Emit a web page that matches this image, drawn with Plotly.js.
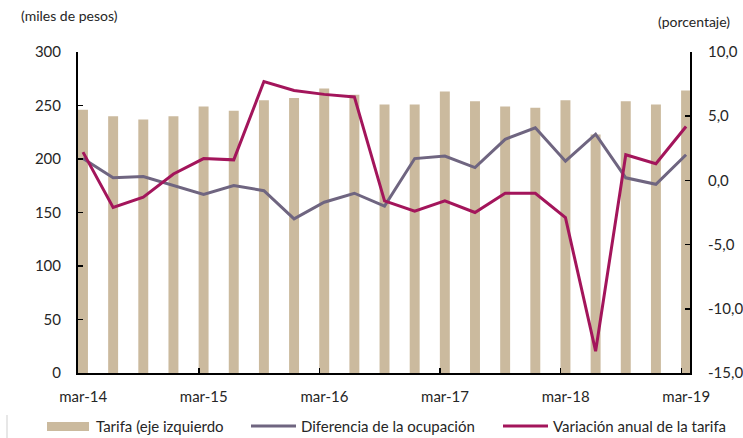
<!DOCTYPE html>
<html>
<head>
<meta charset="utf-8">
<script src="https://cdn.plot.ly/plotly-3.0.1.min.js"></script>
<style>html,body{margin:0;padding:0;background:#fff}#chart{width:743px;height:438px}</style>
</head>
<body>
<div id="chart"></div>
<script>
// Quarterly periods mar-14 .. mar-19
const periods = ["mar-14","jun-14","sep-14","dic-14","mar-15","jun-15","sep-15","dic-15",
  "mar-16","jun-16","sep-16","dic-16","mar-17","jun-17","sep-17","dic-17",
  "mar-18","jun-18","sep-18","dic-18","mar-19"];
// Tarifa (miles de pesos, left axis)
const tarifa = [246,240,237,240,249,245,255,257,266,260,251,251,263,254,249,248,255,223,254,251,264];
// Diferencia de la ocupación (%, right axis)
const ocupacion = [1.7,0.2,0.3,-0.4,-1.1,-0.4,-0.8,-3.0,-1.7,-1.0,-2.0,1.7,1.9,1.0,3.2,4.1,1.5,3.6,0.2,-0.3,2.0];
// Variación anual de la tarifa (%, right axis)
const variacion = [2.2,-2.1,-1.3,0.5,1.7,1.6,7.7,7.0,6.7,6.5,-1.6,-2.4,-1.6,-2.5,-1.0,-1.0,-2.9,-13.3,2.0,1.3,4.2];
// Axis tick labels
const xTickIdx = [0,4,8,12,16,20];
const xTickText = ["mar-14","mar-15","mar-16","mar-17","mar-18","mar-19"];
const yLeftTicks = [0,50,100,150,200,250,300];
const yRightTicks = [-15,-10,-5,0,5,10];
const yRightText = ["-15,0","-10,0","-5,0","0,0","5,0","10,0"];

const xIdx = periods.map((_, i) => i);
const FONT = "Lato, 'Open Sans', sans-serif";
const TXT = "#262626";
const C_BAR = "#CBBA9E", C_GRAY = "#6F6580", C_MAG = "#A3155B";

// plot area in pixels: x 78..690, y 52..373
const L = 78, R = 690, T = 52, B = 373;
const px = x => (x - L) / (R - L);
const py = y => (B - y) / (B - T);

const traces = [
  {type:"bar", x:xIdx, y:tarifa, width:0.33, marker:{color:C_BAR}, yaxis:"y", hoverinfo:"y"},
  {type:"scatter", mode:"lines", x:xIdx, y:ocupacion, yaxis:"y2", line:{color:C_GRAY, width:3}},
  {type:"scatter", mode:"lines", x:xIdx, y:variacion, yaxis:"y2", line:{color:C_MAG, width:3}}
];

const layout = {
  width:743, height:438,
  margin:{l:L, r:743-R, t:T, b:438-B, pad:0},
  paper_bgcolor:"#fff", plot_bgcolor:"#fff",
  showlegend:false,
  font:{family:FONT, size:15, color:TXT},
  xaxis:{
    range:[-0.165, 20.13], showgrid:false, zeroline:false,
    showline:true, linecolor:"#000", linewidth:2,
    tickmode:"array", tickvals:xTickIdx.map(v => v - 0.16), ticktext:xTickText,
    ticks:"inside", ticklen:5, tickwidth:1.5, tickcolor:"#000",
    ticklabelshift:5, ticklabelstandoff:9,
    tickfont:{family:FONT, size:15, color:TXT}
  },
  yaxis:{
    range:[0,300], showgrid:false, zeroline:false,
    showline:true, linecolor:"#000", linewidth:2,
    tickmode:"array", tickvals:yLeftTicks,
    ticks:"inside", ticklen:5, tickwidth:1.5, tickcolor:"#000",
    ticklabelstandoff:12,
    tickfont:{family:FONT, size:15, color:TXT}
  },
  yaxis2:{
    overlaying:"y", side:"right",
    range:[-15,10], showgrid:false, zeroline:false,
    showline:true, linecolor:"#000", linewidth:2,
    tickmode:"array", tickvals:yRightTicks, ticktext:yRightText,
    ticks:"inside", ticklen:5, tickwidth:1.5, tickcolor:"#000",
    ticklabelstandoff:13,
    tickfont:{family:FONT, size:15, color:TXT}
  },
  shapes:[
    {type:"rect", xref:"paper", yref:"paper", x0:px(47), x1:px(89), y0:py(431), y1:py(422), fillcolor:C_BAR, line:{width:0}},
    {type:"line", xref:"paper", yref:"paper", x0:px(251), x1:px(296), y0:py(426), y1:py(426), line:{color:C_GRAY, width:3}},
    {type:"line", xref:"paper", yref:"paper", x0:px(503), x1:px(548), y0:py(426), y1:py(426), line:{color:C_MAG, width:3}},
    {type:"line", xref:"paper", yref:"paper", x0:px(7), x1:px(7), y0:py(415), y1:py(438), line:{color:"#cfcfcf", width:1}}
  ],
  annotations:[
    {xref:"paper", yref:"paper", x:px(19), y:py(15), xanchor:"left", yanchor:"middle", showarrow:false,
     text:"(miles de pesos)", font:{family:FONT, size:14, color:TXT}},
    {xref:"paper", yref:"paper", x:px(732), y:py(21), xanchor:"right", yanchor:"middle", showarrow:false,
     text:"(porcentaje)", font:{family:FONT, size:14, color:TXT}},
    {xref:"paper", yref:"paper", x:px(94), y:py(426), xanchor:"left", yanchor:"middle", showarrow:false,
     text:"Tarifa (eje izquierdo", font:{family:FONT, size:15, color:TXT}},
    {xref:"paper", yref:"paper", x:px(299), y:py(426), xanchor:"left", yanchor:"middle", showarrow:false,
     text:"Diferencia de la ocupación", font:{family:FONT, size:15, color:TXT}},
    {xref:"paper", yref:"paper", x:px(551), y:py(426), xanchor:"left", yanchor:"middle", showarrow:false,
     text:"Variación anual de la tarifa", font:{family:FONT, size:15, color:TXT}}
  ]
};

Plotly.newPlot("chart", traces, layout, {displayModeBar:false, staticPlot:true});
</script>
</body>
</html>
